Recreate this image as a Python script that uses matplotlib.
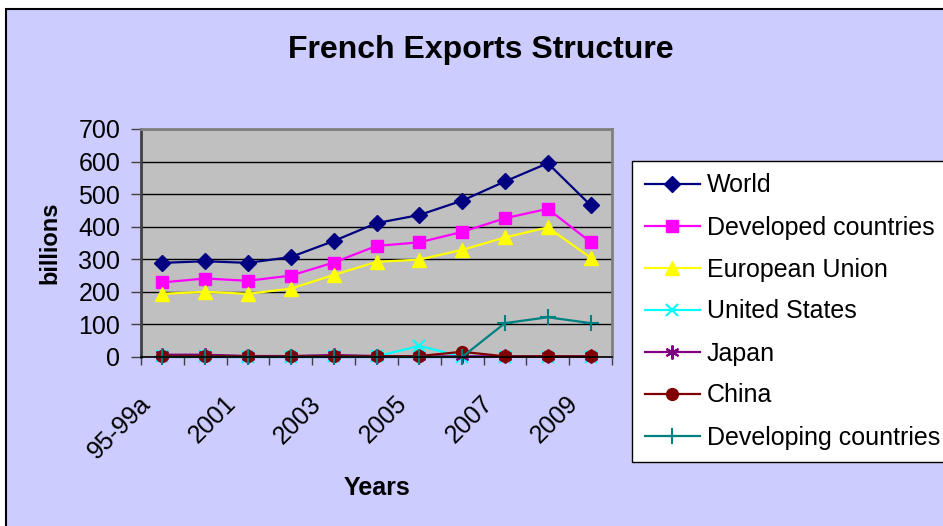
import matplotlib
matplotlib.use("Agg")
import matplotlib.pyplot as plt
from matplotlib.patches import Rectangle
from matplotlib.transforms import ScaledTranslation

plt.rcParams["font.family"] = ["Liberation Sans", "DejaVu Sans"]

years = ["95-99a", "2000", "2001", "2002", "2003", "2004",
         "2005", "2006", "2007", "2008", "2009"]
world = [289, 294, 289, 307, 356, 411, 436, 480, 539, 595, 466]
developed = [229, 241, 234, 250, 290, 341, 352, 384, 426, 455, 353]
eu = [194, 200, 194, 210, 252, 292, 299, 329, 367, 398, 305]
us = [2, 2, 1, 1, 2, 2, 34, 1, 1, 1, 1]
japan = [7, 7, 3, 3, 6, 3, 2, 2, 2, 2, 2]
china = [3, 3, 2, 2, 3, 2, 3, 16, 2, 2, 2]
developing = [0, 0, 0, 0, 0, 0, 0, 0, 104, 122, 104]

series = [
    ("World", world, "#000080", "D", 8.5),
    ("Developed countries", developed, "#FF00FF", "s", 8.5),
    ("European Union", eu, "#FFFF00", "^", 10),
    ("United States", us, "#00FFFF", "x", 9),
    ("Japan", japan, "#800080", (6, 2, 0), 10),
    ("China", china, "#800000", "o", 8.5),
    ("Developing countries", developing, "#008080", "+", 11),
]

W, H = 943, 526
fig = plt.figure(figsize=(W / 100, H / 100), dpi=100, facecolor="white")
bg = Rectangle((6 / W, -0.1), 1.2, (H - 9) / H + 0.1,
               transform=fig.transFigure, facecolor="#CCCCFF",
               edgecolor="black", lw=1.5, zorder=-10)
fig.patches.append(bg)

ax = fig.add_axes([141 / W, 1 - 357 / H, (612 - 141) / W, (357 - 129) / H])
ax.set_zorder(1)
ax.set_facecolor("#C0C0C0")

x = list(range(len(years)))
for name, vals, color, marker, ms in series:
    kw = dict(mec=color, mfc=color)
    if marker in ("x", "+") or isinstance(marker, tuple):
        kw["mew"] = 1.5
    ax.plot(x, vals, color=color, lw=1.6, marker=marker, ms=ms,
            label=name, clip_on=False, **kw)

ax.set_xlim(-0.5, len(years) - 0.5)
ax.set_ylim(0, 700)
ax.set_yticks(range(0, 701, 100))
ax.yaxis.grid(True, color="black", lw=1)
ax.set_axisbelow(True)

ax.set_xticks(x[::2])
ax.set_xticklabels(years[::2], rotation=45, ha="right", va="center",
                   rotation_mode="anchor")
ax.set_xticks([i - 0.5 for i in range(len(years) + 1)], minor=True)
ax.tick_params(axis="x", which="major", length=0, pad=31, labelsize=18)
ax.tick_params(axis="x", which="minor", length=6, width=1, direction="out",
               color="#404040")
ax.tick_params(axis="y", length=7, width=1, pad=8, labelsize=18,
               color="#404040")
# Excel puts the rotated labels a bit left of the category centre
shift = ScaledTranslation(-16 / 100, 0, fig.dpi_scale_trans)
for lab in ax.get_xticklabels():
    lab.set_transform(lab.get_transform() + shift)

for side in ("left", "bottom"):
    ax.spines[side].set_color("black")
    ax.spines[side].set_linewidth(1.2)
ax.spines["left"].set_color("#404040")
ax.spines["left"].set_linewidth(2)
for side in ("top", "right"):
    ax.spines[side].set_color("#808080")
    ax.spines[side].set_linewidth(2)

ax.set_ylabel("billions", fontsize=17, fontweight="bold", labelpad=12)
ax.set_xlabel("Years", fontsize=18, fontweight="bold", labelpad=9)

fig.text(481 / W, 1 - 50 / H, "French Exports Structure", fontsize=23,
         fontweight="bold", ha="center", va="center")

leg = fig.legend(loc="upper left", bbox_to_anchor=(632 / W, 1 - 161 / H),
                 fontsize=18, frameon=True, fancybox=False, edgecolor="black",
                 framealpha=1, handlelength=2.2, handletextpad=0.3,
                 labelspacing=0.72, borderpad=0.5, borderaxespad=0)
leg.get_frame().set_linewidth(1)

fig.savefig("out.png", dpi=100, facecolor=fig.get_facecolor())
